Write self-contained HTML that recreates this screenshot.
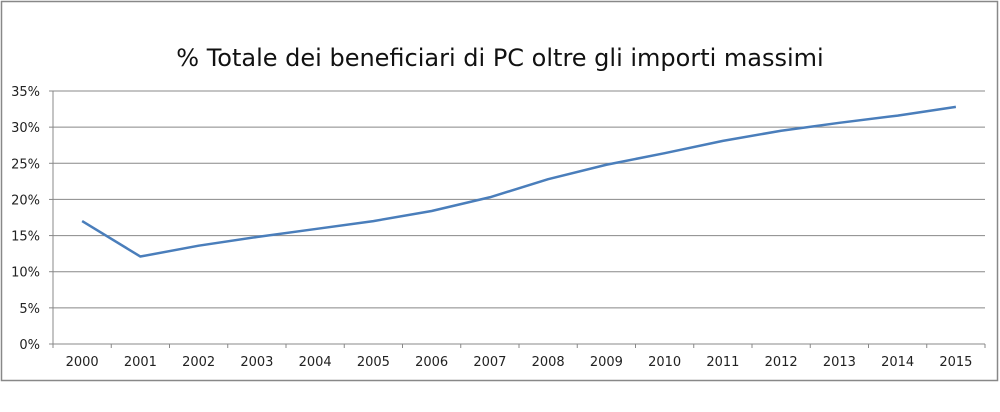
<!DOCTYPE html>
<html><head><meta charset="utf-8"><style>
body{margin:0;background:#fff;width:1000px;height:412px;overflow:hidden}
svg{display:block;font-family:"DejaVu Sans","Liberation Sans",sans-serif}
</style></head><body>
<svg width="1000" height="412">
<rect x="1.5" y="1.5" width="996" height="379" fill="#fff" stroke="#888" stroke-width="1.5"/>
<text x="500" y="66" text-anchor="middle" font-size="24" fill="#111">% Totale dei beneficiari di PC oltre gli importi massimi</text>
<g id="grid"></g><g id="axes"></g><g id="series"></g>
</svg>
<script>
const categories=["2000","2001","2002","2003","2004","2005","2006","2007","2008","2009","2010","2011","2012","2013","2014","2015"];
const values=[17.0,12.1,13.6,14.8,15.9,17.0,18.4,20.3,22.8,24.8,26.4,28.1,29.5,30.6,31.6,32.8];
const yTicks=[0,5,10,15,20,25,30,35];
const yTickLabels=["0%","5%","10%","15%","20%","25%","30%","35%"];
const L=53,R=985,T=91,B=344,yMax=35;
const ns="http://www.w3.org/2000/svg";
const bw=(R-L)/categories.length;
const x=i=>L+bw*(i+0.5);
const y=v=>B-(v/yMax)*(B-T);
function mk(t,a,p){const e=document.createElementNS(ns,t);for(const k in a)e.setAttribute(k,a[k]);p.appendChild(e);return e;}
const grid=document.getElementById('grid'),axes=document.getElementById('axes'),ser=document.getElementById('series');
yTicks.forEach((v,i)=>{
 if(v>0){const g=mk('line',{x1:L,x2:R,y1:y(v),y2:y(v),stroke:'#888','stroke-width':1},grid);
 
 }
 const tk=mk('line',{x1:L-4,x2:L,y1:y(v),y2:y(v),stroke:'#888'},axes);
 
 
 const t=mk('text',{x:L-13,y:y(v)+5,'text-anchor':'end','font-size':13,fill:'#222'},axes);
 t.textContent=yTickLabels[i];
 
 
});
const ya=mk('line',{x1:L,x2:L,y1:T,y2:B,stroke:'#888'},axes);


const xa=mk('line',{x1:L,x2:R,y1:B,y2:B,stroke:'#888'},axes);


categories.forEach((c,i)=>{
 const tk=mk('line',{x1:L+bw*i,x2:L+bw*i,y1:B,y2:B+4,stroke:'#888'},axes);
 
 
 const t=mk('text',{x:x(i),y:B+22,'text-anchor':'middle','font-size':13,fill:'#222'},axes);
 t.textContent=c;
 
 
});
const tk2=mk('line',{x1:R,x2:R,y1:B,y2:B+4,stroke:'#888'},axes);


const p=mk('polyline',{points:values.map((v,i)=>x(i)+','+y(v)).join(' '),fill:'none',stroke:'#4a7ebb','stroke-width':2.5,'stroke-linejoin':'round'},ser);


</script>
</body></html>
